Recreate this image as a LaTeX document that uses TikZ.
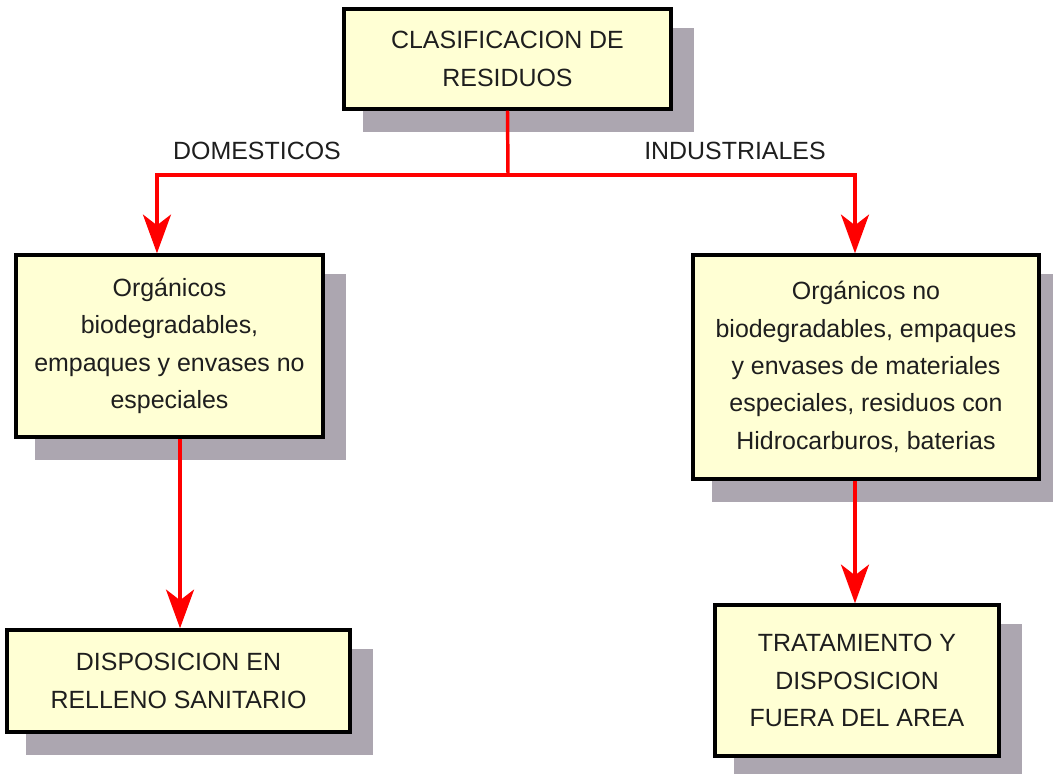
\documentclass[tikz,border=0pt]{standalone}
\usepackage{fontspec}
\setmainfont{Liberation Sans}
\usetikzlibrary{arrows.meta,backgrounds}

\definecolor{boxfill}{RGB}{255,255,212}
\definecolor{shadowc}{RGB}{172,166,176}
\definecolor{textc}{RGB}{30,30,30}
\definecolor{flowred}{RGB}{255,0,0}

\tikzset{every picture/.style={line width=0.75pt}}
\tikzset{
  caja/.style={draw=black, line width=2.6pt, fill=boxfill, text=textc, align=center,
    inner sep=0pt, font=\fontsize{18.7}{28}\selectfont},
  rotulo/.style={text=textc, inner sep=0.75pt, font=\fontsize{18.7}{28}\selectfont},
  flujo/.style={draw=flowred, line width=2.6pt,
    -{Stealth[length=29pt,width=21pt,inset=8pt]}}
}

\begin{document}
\begin{tikzpicture}[x=0.75pt,y=0.75pt,yscale=-1,xscale=1]
\useasboundingbox (0,0) rectangle (1053,774);

%Shape: Rectangle [id:clasif]
\node [caja, minimum width=245.25pt, minimum height=75pt] (clasif) at (507.5,59) {CLASIFICACION DE\\RESIDUOS};
%Shape: Rectangle [id:dom]
\node [caja, minimum width=230.25pt, minimum height=136.5pt] (dom) at (169.5,346) {Orgánicos\\biodegradables,\\empaques y envases no\\especiales};
%Shape: Rectangle [id:ind]
\node [caja, minimum width=259.5pt, minimum height=168pt] (ind) at (866,367) {Orgánicos no\\biodegradables, empaques\\y envases de materiales\\especiales, residuos con\\Hidrocarburos, baterias};
%Shape: Rectangle [id:relleno]
\node [caja, minimum width=257.25pt, minimum height=76.5pt] (relleno) at (178.5,681) {DISPOSICION EN\\RELLENO SANITARIO};
%Shape: Rectangle [id:tratam]
\node [caja, minimum width=213pt, minimum height=113.25pt] (tratam) at (857,680.5) {TRATAMIENTO Y\\DISPOSICION\\FUERA DEL AREA};

%Shadows
\begin{scope}[on background layer]
\foreach \n in {clasif,dom,ind,relleno,tratam}
  \fill [shadowc] ([shift={(21,21)}]\n.north west) rectangle ([shift={(21,21)}]\n.south east);
\end{scope}

%Straight Lines [id:split]
\coordinate (split) at (508,175);
\draw [draw=flowred, line width=2.6pt] (clasif.south) -- (split);
\draw [flujo] (split) -| ([xshift=-9.4pt]dom.north);
\draw [flujo] (split) -| ([xshift=-8.25pt]ind.north);
%Straight Lines [id:bajada]
\draw [flujo] ([xshift=7.9pt]dom.south) -- ([xshift=7.9pt]dom.south |- relleno.north);
\draw [flujo] ([xshift=-8.25pt]ind.south) -- ([xshift=-8.25pt]ind.south |- tratam.north);

% Text Node
\node [rotulo] (domest) at (257,151) {DOMESTICOS};
% Text Node
\node [rotulo] (indust) at (735,151) {INDUSTRIALES};

\end{tikzpicture}
\end{document}
